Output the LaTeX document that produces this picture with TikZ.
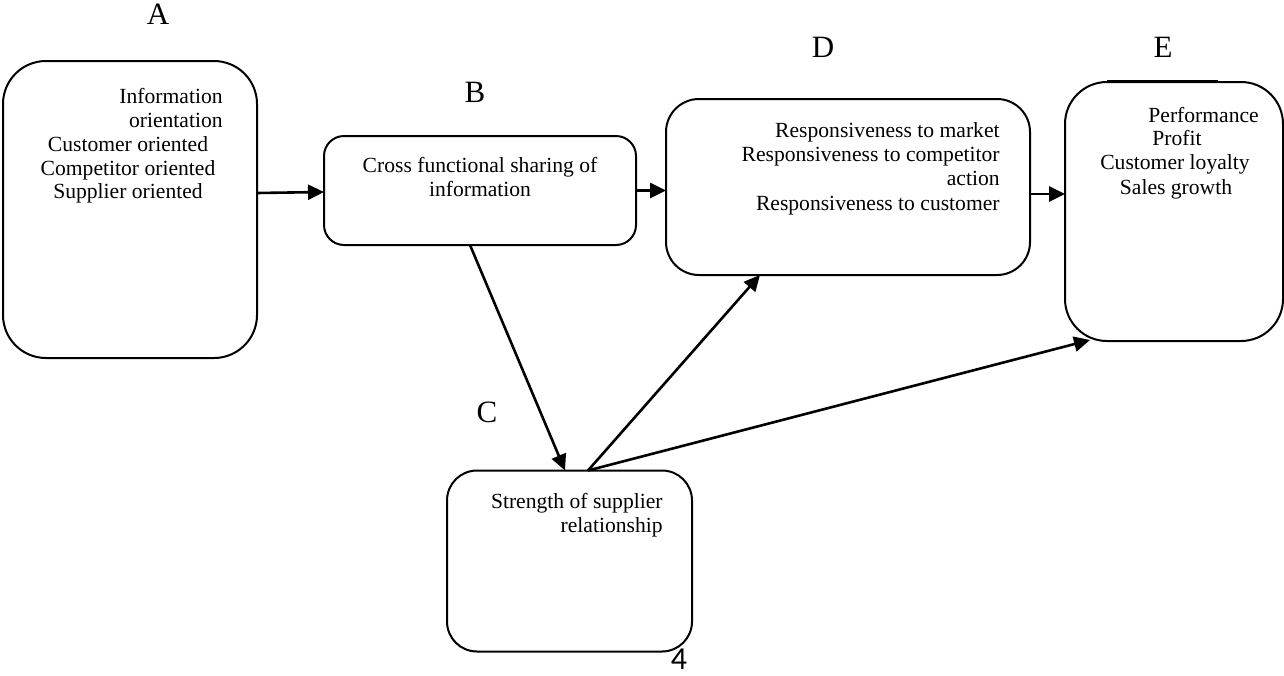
\documentclass[tikz,border=0pt]{standalone}
\usepackage{fontspec}
\setmainfont{Liberation Serif}
\newfontfamily\numfont{Carlito}
\usetikzlibrary{arrows.meta}
\begin{document}
\begin{tikzpicture}[x=0.5pt,y=-0.5pt,
  box/.style={draw, line width=1pt, rounded corners=#1, inner sep=0pt, outer sep=0pt},
  arr/.style={line width=1.3pt, -{Triangle[length=8pt,width=7.5pt]}},
  txt/.style={inner sep=0pt, font=\fontsize{10.8}{12}\selectfont},
  lbl/.style={inner sep=0pt, font=\fontsize{15.5}{17}\selectfont}]
\useasboundingbox (0,0) rectangle (1284,675);
% boxes
\node[box=21.5pt, minimum width=127pt, minimum height=148.5pt] (A) at (130,209.5) {};
\node[box=10pt, minimum width=156pt, minimum height=54.5pt] (B) at (480,190.5) {};
\node[box=16.5pt, minimum width=182pt, minimum height=88pt] (D) at (848,187) {};
\node[box=21pt, minimum width=109pt, minimum height=129.5pt] (E) at (1174,211.5) {};
\node[box=15pt, minimum width=122.5pt, minimum height=90.5pt] (C) at (569.5,561) {};
\draw[line width=0.8pt] (1107,81) -- (1218,81);
% labels
\node[lbl, anchor=base] (la) at (158,24) {A};
\node[lbl, anchor=base] (lb) at (475,102) {B};
\node[lbl, anchor=base] (lc) at (487,422) {C};
\node[lbl, anchor=base] (ld) at (823,57) {D};
\node[lbl, anchor=base] (le) at (1163,57) {E};
\node[inner sep=0pt, anchor=base, font=\numfont\fontsize{16}{18}\selectfont] (pg) at (679,669) {4};
% texts A
\node[txt, anchor=base east] (a1) at (223,103) {Information};
\node[txt, anchor=base east] (a2) at (223,127) {orientation};
\node[txt, anchor=base] (a3) at (128,151.5) {Customer oriented};
\node[txt, anchor=base] (a4) at (128,175) {Competitor oriented};
\node[txt, anchor=base] (a5) at (128,198.5) {Supplier oriented};
% texts B
\node[txt, anchor=base] (b1) at (480,172) {Cross functional sharing of};
\node[txt, anchor=base] (b2) at (480,196) {information};
% texts D
\node[txt, anchor=base east] (d1) at (1000,137) {Responsiveness to market};
\node[txt, anchor=base east] (d2) at (1000,161) {Responsiveness to competitor};
\node[txt, anchor=base east] (d3) at (1000,185.5) {action};
\node[txt, anchor=base east] (d4) at (1000,210) {Responsiveness to customer};
% texts E
\node[txt, anchor=base west] (e1) at (1148,122) {Performance};
\node[txt, anchor=base] (e2) at (1177,145) {Profit};
\node[txt, anchor=base] (e3) at (1175,169) {Customer loyalty};
\node[txt, anchor=base] (e4) at (1176,194) {Sales growth};
% texts C
\node[txt, anchor=base east] (c1) at (663,508) {Strength of supplier};
\node[txt, anchor=base east] (c2) at (663,532) {relationship};
% connectors
\draw[arr] ([yshift=8.25pt]A.east) -- ([yshift=-0.75pt]B.west);
\draw[arr] (B.east) -- (B.east -| D.west);
\draw[arr] ([yshift=-3.5pt]D.east) -- ([yshift=-3.5pt]D.east -| E.west);
\draw[arr] ([xshift=-5pt]B.south) -- ([xshift=-2.25pt]C.north);
\draw[arr] ([xshift=9.25pt]C.north) -- ([xshift=-44pt]D.south);
\draw[arr] ([xshift=9.25pt]C.north) -- ([xshift=-42pt,yshift=0.5pt]E.south);
\end{tikzpicture}
\end{document}
